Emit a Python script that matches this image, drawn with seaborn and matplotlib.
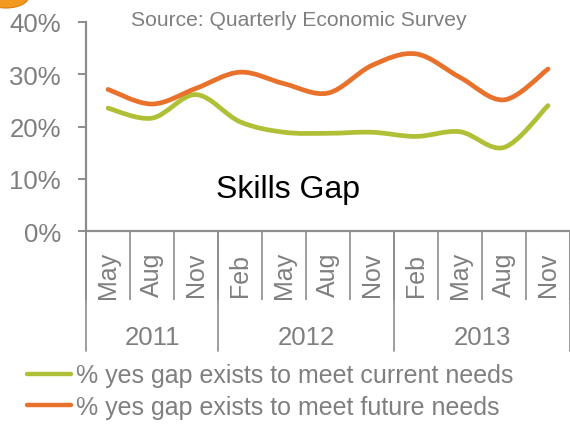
import numpy as np
import pandas as pd
import matplotlib
matplotlib.use("Agg")
import matplotlib.pyplot as plt
from matplotlib.path import Path
from matplotlib.patches import PathPatch, Ellipse
from matplotlib.lines import Line2D
from matplotlib.ticker import PercentFormatter
import seaborn as sns

# Survey rounds (quarterly) and their years
months = ["May", "Aug", "Nov", "Feb", "May", "Aug", "Nov", "Feb", "May", "Aug", "Nov"]
years = ["2011", "2012", "2013"]
year_sizes = [3, 4, 4]

# Share of firms reporting a skills gap (%)
current_needs = [23.5, 21.6, 26.1, 20.9, 18.9, 18.7, 18.9, 18.1, 19.0, 16.0, 24.0]
future_needs = [27.1, 24.3, 27.3, 30.4, 28.2, 26.4, 31.7, 33.9, 29.4, 25.1, 31.0]

series_names = ["% yes gap exists to meet current needs",
                "% yes gap exists to meet future needs"]
colors = ["#AFC036", "#E8722C"]
GRAY = "#7F7F7F"
AXIS_GRAY = "#8C8C8C"

sns.set_theme(style="white")
plt.rcParams["font.family"] = ["Liberation Sans", "DejaVu Sans"]

n = len(months)
df = pd.DataFrame({
    "pos": list(range(n)) * 2,
    "value": [v / 100 for v in current_needs] + [v / 100 for v in future_needs],
    "series": [series_names[0]] * n + [series_names[1]] * n,
})

fig = plt.figure(figsize=(5.70, 4.27), dpi=100)
ax = fig.add_axes([86 / 570, 1 - 232 / 427, 484 / 570, 209 / 427])

sns.lineplot(data=df, x="pos", y="value", hue="series", palette=colors,
             linewidth=3.2, ax=ax, legend=False)


def smooth_path(xs, ys):
    """Cubic Bezier path through the points (Catmull-Rom style tangents)."""
    pts = np.column_stack([xs, ys])
    ext = np.vstack([pts[0], pts, pts[-1]])
    verts = [pts[0]]
    codes = [Path.MOVETO]
    for i in range(len(pts) - 1):
        p0, p1, p2, p3 = ext[i], ext[i + 1], ext[i + 2], ext[i + 3]
        c1 = p1 + (p2 - p0) / 6.0
        c2 = p2 - (p3 - p1) / 6.0
        verts += [c1, c2, p2]
        codes += [Path.CURVE4] * 3
    return Path(np.array(verts), codes)


# Render each series as a smoothed curve through its survey values
for line, col in zip(list(ax.lines), colors):
    xs, ys = line.get_xdata(), line.get_ydata()
    line.set_visible(False)
    patch = PathPatch(smooth_path(np.asarray(xs, float), np.asarray(ys, float)),
                      facecolor="none", edgecolor=col, lw=3.4,
                      capstyle="round", joinstyle="round", zorder=3)
    ax.add_patch(patch)

ax.set_xlim(-0.5, n - 0.5)
ax.set_ylim(0, 0.40)
ax.set_xlabel("")
ax.set_ylabel("")

# y axis
ax.set_yticks([0, 0.1, 0.2, 0.3, 0.4])
ax.yaxis.set_major_formatter(PercentFormatter(1.0, decimals=0))
ax.tick_params(axis="y", direction="out", length=6, width=1.4, color=AXIS_GRAY,
               labelsize=18.5, labelcolor=GRAY, pad=12, left=True)

# x axis: boundary ticks between rounds, month names in between
bounds = np.arange(-0.5, n, 1.0)
ax.set_xticks(bounds)
ax.set_xticklabels([""] * len(bounds))
ax.tick_params(axis="x", which="major", direction="out", length=50, width=1.2,
               color=AXIS_GRAY, bottom=True)
ax.set_xticks(np.arange(n), minor=True)
ax.set_xticklabels(months, minor=True, rotation=90)
ax.tick_params(axis="x", which="minor", length=0, pad=31, labelsize=18,
               labelcolor=GRAY)
for lab in ax.get_xticklabels(minor=True):
    lab.set_va("center")
    lab.set_ha("center")

# year groups
start = -0.5
xtrans = ax.get_xaxis_transform()
ax.plot([start, start], [0, -0.574], transform=xtrans, color=AXIS_GRAY,
        lw=1.2, clip_on=False)
for yr, size in zip(years, year_sizes):
    end = start + size
    ax.annotate(yr, xy=((start + end) / 2, 0), xycoords=xtrans,
                xytext=(0, -76), textcoords="offset points",
                ha="center", va="center", fontsize=18.5, color=GRAY)
    ax.plot([end, end], [0, -0.574], transform=xtrans, color=AXIS_GRAY,
            lw=1.2, clip_on=False)
    start = end

for side in ["top", "right"]:
    ax.spines[side].set_visible(False)
for side in ["left", "bottom"]:
    ax.spines[side].set_color(AXIS_GRAY)
    ax.spines[side].set_linewidth(1.6)
ax.grid(False)

# titles
fig.text(131 / 570, 1 - 21 / 427, "Source: Quarterly Economic Survey",
         fontsize=15.2, color=GRAY, ha="left", va="center")
fig.text(288 / 570, 1 - 190 / 427, "Skills Gap", fontsize=23,
         color="black", ha="center", va="center")

# legend
handles = [Line2D([0], [0], color=c, lw=3.2, solid_capstyle="round") for c in colors]
fig.legend(handles, series_names, loc="center left",
           bbox_to_anchor=(27 / 570, 1 - 392 / 427), frameon=False,
           fontsize=18, labelcolor=GRAY, handlelength=1.75, handletextpad=0.2,
           labelspacing=0.3, borderpad=0, borderaxespad=0)

# decorative corner swoosh
fig.patches.append(Ellipse((6 / 570, 1 + 3 / 427), 46 / 570, 24 / 427,
                           transform=fig.transFigure, facecolor="#F39A1E",
                           edgecolor="#E07A10", lw=0.8, figure=fig))

fig.savefig("out.png", dpi=100)
